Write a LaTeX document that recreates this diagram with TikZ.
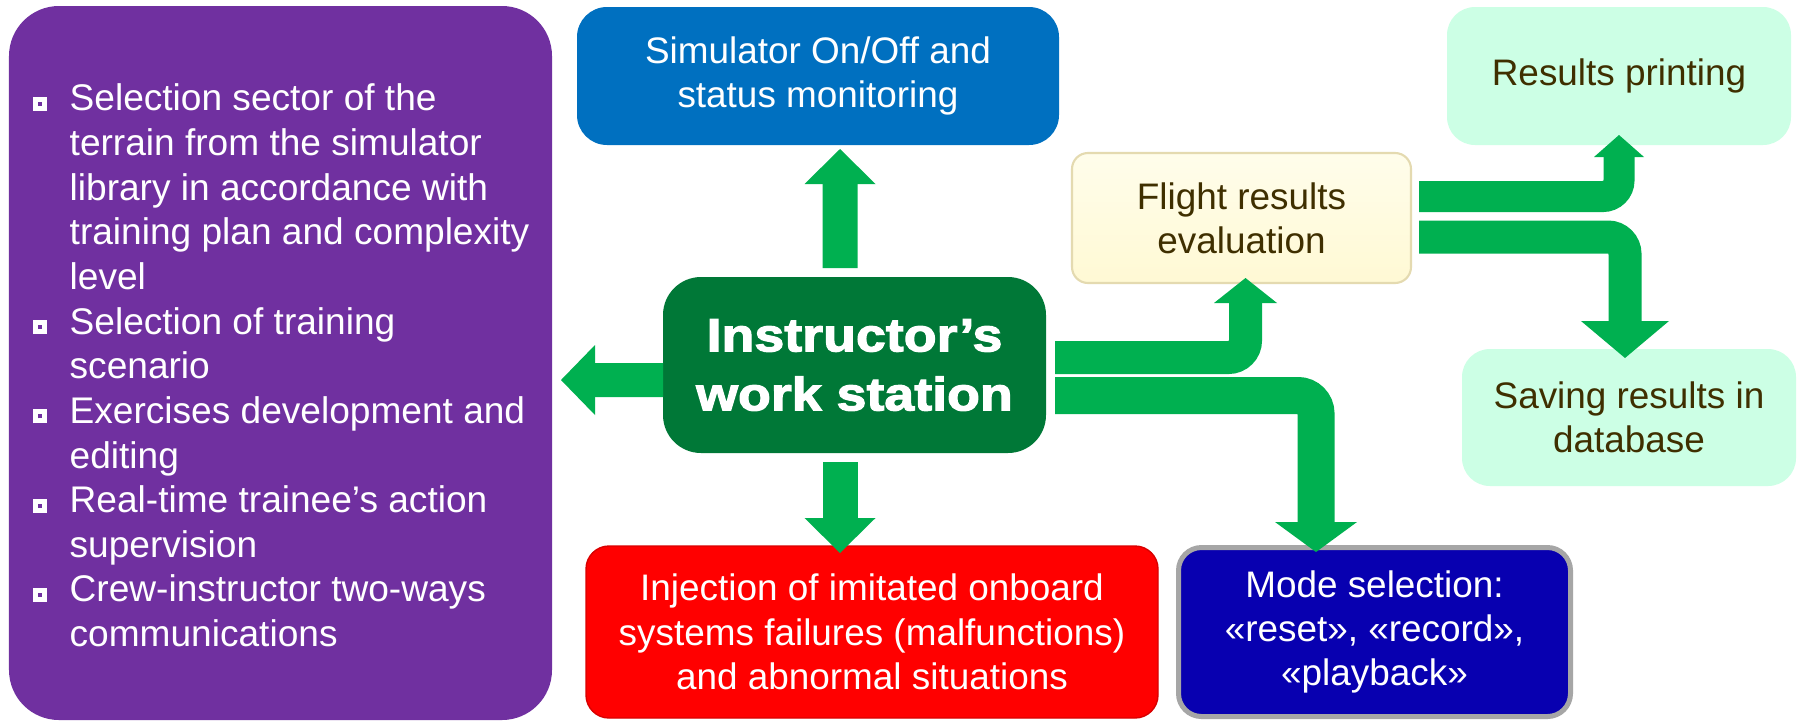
\documentclass[tikz,border=0pt]{standalone}
\usepackage{fontspec}
\setmainfont{Liberation Sans}
\newfontfamily\heavyfont{Liberation Sans Bold}[FakeBold=2.6,FakeStretch=1.15]
\usetikzlibrary{arrows.meta}

\definecolor{tasks}{RGB}{112,48,160}
\definecolor{simblue}{RGB}{0,112,192}
\definecolor{iwsgreen}{RGB}{0,120,55}
\definecolor{flowgreen}{RGB}{0,176,80}
\definecolor{evaltop}{RGB}{255,253,235}
\definecolor{evalbot}{RGB}{255,249,212}
\definecolor{evaledge}{RGB}{228,218,176}
\definecolor{mint}{RGB}{204,255,229}
\definecolor{darkbrown}{RGB}{63,47,0}
\definecolor{failred}{RGB}{255,0,0}
\definecolor{modeblue}{RGB}{8,0,176}
\definecolor{modegray}{RGB}{166,166,166}

\newcommand\cardfont{\fontsize{10.5}{12.6}\selectfont}
\newcommand\taskfont{\fontsize{10.55}{12.7}\selectfont}
\newcommand\iwsfont{\heavyfont\fontsize{13.3}{16.8}\selectfont}
\newcommand\sqbullet{\makebox[0.37cm][l]{\textcolor{white}{\rule{0.14cm}{0.14cm}}\hspace{-0.09cm}\textcolor{tasks}{\raisebox{0.05cm}{\rule{0.04cm}{0.04cm}}}}}

\begin{document}
\begin{tikzpicture}[
    card/.style={rounded corners=#1, inner sep=0pt, outer sep=0pt, align=center, font=\cardfont},
    card/.default=0.28cm,
    flow/.style n args={3}{draw=flowgreen, line width=#1, -{Triangle[width=#2, length=#3, line width=0pt]}}
]
    \path[use as bounding box, fill=white] (0,0) rectangle (17.98,-7.21);

    % task list on the left
    \node[card=0.5cm, fill=tasks, minimum width=5.43cm, minimum height=7.14cm] (tasks) at (2.805,-3.63) {};
    \node[anchor=base west, align=left, inner sep=0pt, text=white, font=\taskfont] (list) at (0.32,-6.466)
        {\sqbullet Selection sector of the\\
         \hspace*{0.37cm}terrain from the simulator\\
         \hspace*{0.37cm}library in accordance with\\
         \hspace*{0.37cm}training plan and complexity\\
         \hspace*{0.37cm}level\\
         \sqbullet Selection of training\\
         \hspace*{0.37cm}scenario\\
         \sqbullet Exercises development and\\
         \hspace*{0.37cm}editing\\
         \sqbullet Real-time trainee’s action\\
         \hspace*{0.37cm}supervision\\
         \sqbullet Crew-instructor two-ways\\
         \hspace*{0.37cm}communications};

    % centre and the boxes round it
    \node[card=0.38cm, fill=iwsgreen, text=white, font=\iwsfont, minimum width=3.83cm, minimum height=1.76cm] (iws) at (8.545,-3.65) {Instructor’s\\work station};
    \node[card=0.3cm, fill=simblue, text=white, minimum width=4.82cm, minimum height=1.38cm] (sim) at (8.18,-0.76) {Simulator On/Off and\\status monitoring};
    \node[card=0.16cm, top color=evaltop, bottom color=evalbot, draw=evaledge, line width=0.6pt, text=darkbrown, minimum width=3.39cm, minimum height=1.30cm] (eval) at (12.415,-2.18) {Flight results\\evaluation};
    \node[card, fill=mint, text=darkbrown, minimum width=3.44cm, minimum height=1.38cm] (print) at (16.19,-0.76) {Results printing};
    \node[card, fill=mint, text=darkbrown, minimum width=3.34cm, minimum height=1.37cm] (save) at (16.29,-4.175) {Saving results in\\database};
    \node[card=0.23cm, fill=failred, draw=red!85!black, line width=0.4pt, text=white, minimum width=5.72cm, minimum height=1.72cm] (fail) at (8.72,-6.32) {Injection of imitated onboard\\systems failures (malfunctions)\\and abnormal situations};
    \node[card=0.23cm, fill=modeblue, draw=modegray, line width=0.05cm, text=white, minimum width=3.92cm, minimum height=1.69cm] (mode) at (13.745,-6.32) {Mode selection:\\«reset», «record»,\\«playback»};

    % block arrows
    \draw[flow={0.35cm}{0.71cm}{0.35cm}] ([xshift=-0.145cm,yshift=0.09cm]iws.north) -- ([xshift=0.22cm,yshift=-0.04cm]sim.south);
    \draw[flow={0.34cm}{0.70cm}{0.34cm}] ([yshift=-0.15cm]iws.west) -- ([xshift=0.09cm,yshift=-0.17cm]tasks.east);
    \draw[flow={0.35cm}{0.71cm}{0.35cm}] ([xshift=-0.145cm,yshift=-0.09cm]iws.south) -- ([xshift=-0.32cm,yshift=-0.07cm]fail.north);
    \draw[flow={0.33cm}{0.63cm}{0.25cm}, rounded corners=0.17cm] ([xshift=0.09cm,yshift=0.075cm]iws.east) -| ([xshift=0.04cm,yshift=0.05cm]eval.south);
    \draw[flow={0.37cm}{0.82cm}{0.30cm}, rounded corners=0.18cm] ([xshift=0.09cm,yshift=-0.305cm]iws.east) -| ([xshift=-0.585cm,yshift=-0.045cm]mode.north);
    \draw[flow={0.31cm}{0.50cm}{0.22cm}, rounded corners=0.16cm] ([xshift=0.08cm,yshift=0.215cm]eval.east) -| ([yshift=0.1cm]print.south);
    \draw[flow={0.33cm}{0.88cm}{0.37cm}, rounded corners=0.17cm] ([xshift=0.08cm,yshift=-0.19cm]eval.east) -| ([xshift=-0.04cm,yshift=-0.09cm]save.north);
\end{tikzpicture}
\end{document}
